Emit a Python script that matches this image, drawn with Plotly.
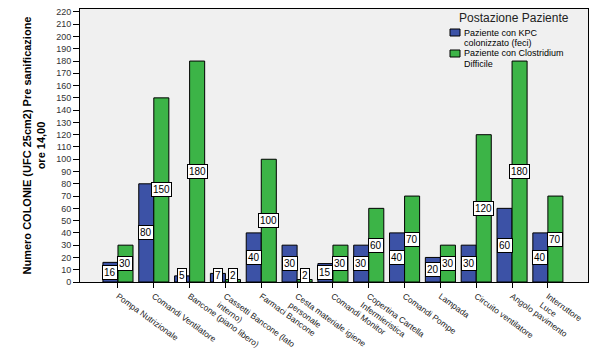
import plotly.graph_objects as go

categories = [
    "Pompa Nutrizionale",
    "Comandi Ventilatore",
    "Bancone (piano libero)",
    "Cassetti Bancone (lato<br>interno)",
    "Farmaci Bancone",
    "Cesta materiale igiene<br>personale",
    "Comandi Monitor",
    "Copertina Cartella<br>Infermieristica",
    "Comandi Pompe",
    "Lampada",
    "Circuito ventilatore",
    "Angolo pavimento",
    "Interruttore<br>Luce",
]
kpc_values = [16, 80, 5, 7, 40, 30, 15, 30, 40, 20, 30, 60, 40]
clostridium_values = [30, 150, 180, 2, 100, 2, 30, 60, 70, 30, 120, 180, 70]
series_names = ["Paziente con KPC<br>colonizzato (feci)", "Paziente con Clostridium<br>Difficile"]
legend_title = "Postazione Paziente"
y_ticks = list(range(0, 221, 10))

BLUE = "#3c52a6"
GREEN = "#3cb447"
COLORS = [BLUE, GREEN]
FONT = "Liberation Sans, Arial, sans-serif"

# plot area geometry in pixels (for the hand-made legend)
L, R, T, B = 80, 12, 9, 71
W, H = 600, 353
PW, PH = W - L - R, H - T - B


def px(x):
    return (x - L) / PW


def py(y):
    return (H - B - y) / PH


fig = go.Figure()
fig.add_bar(x=categories, y=kpc_values, name=series_names[0],
            marker=dict(color=BLUE, line=dict(color="black", width=1)))
fig.add_bar(x=categories, y=clostridium_values, name=series_names[1],
            marker=dict(color=GREEN, line=dict(color="black", width=1)))

annotations = []
for vals, shift in ((kpc_values, -7.5), (clostridium_values, 7.5)):
    for c, v in zip(categories, vals):
        annotations.append(dict(
            x=c, y=max(v / 2, 5.7), xref="x", yref="y", xshift=shift,
            text=str(v), showarrow=False,
            font=dict(family=FONT, size=10, color="black"),
            bgcolor="white", bordercolor="black", borderwidth=1, borderpad=1,
        ))

# legend drawn by hand to match the compact original layout
annotations.append(dict(
    x=px(514), y=py(18), xref="paper", yref="paper", xanchor="center", yanchor="middle",
    text=legend_title, showarrow=False, font=dict(family=FONT, size=12, color="#222"),
))
shapes = []
item_centers = [32.5, 53.5]
LINE_STEP = 10.5
for name, color, c in zip(series_names, COLORS, item_centers):
    shapes.append(dict(
        type="rect", xref="paper", yref="paper",
        x0=px(450), x1=px(460), y0=py(c - 3.5), y1=py(c + 3.5),
        fillcolor=color, line=dict(color="black", width=1),
    ))
    for i, line in enumerate(name.split("<br>")):
        annotations.append(dict(
            x=px(463), y=py(c + LINE_STEP * i), xref="paper", yref="paper",
            xanchor="left", yanchor="middle", text=line, showarrow=False,
            font=dict(family=FONT, size=9, color="black"),
            borderpad=0,
        ))

fig.update_layout(
    width=W, height=H,
    margin=dict(l=L, r=R, t=T, b=B),
    paper_bgcolor="white", plot_bgcolor="#f0f0f0",
    barmode="group", bargap=0.16, bargroupgap=0,
    font=dict(family=FONT, size=10, color="black"),
    showlegend=False,
    annotations=annotations,
    shapes=shapes,
)
fig.update_xaxes(
    type="category", range=[-1.06, 13.12], automargin=False,
    tickangle=36, ticks="outside", ticklen=5, tickcolor="black",
    tickfont=dict(family=FONT, size=8.5, color="#222"),
    showline=True, linecolor="black", linewidth=1, mirror=True,
    showgrid=False, zeroline=False,
)
fig.update_yaxes(
    range=[0, 222.4], tickvals=y_ticks, ticks="outside", ticklen=6, tickcolor="black",
    automargin=False,
    tickfont=dict(family=FONT, size=9, color="#333"),
    showline=True, linecolor="black", linewidth=1, mirror=True,
    showgrid=False, zeroline=False,
    title=dict(text="<b>Numero COLONIE (UFC 25cm2) Pre sanificazione<br>ore 14,00</b>",
               font=dict(family=FONT, size=11, color="black"), standoff=8),
)

fig.write_html("out.html")
